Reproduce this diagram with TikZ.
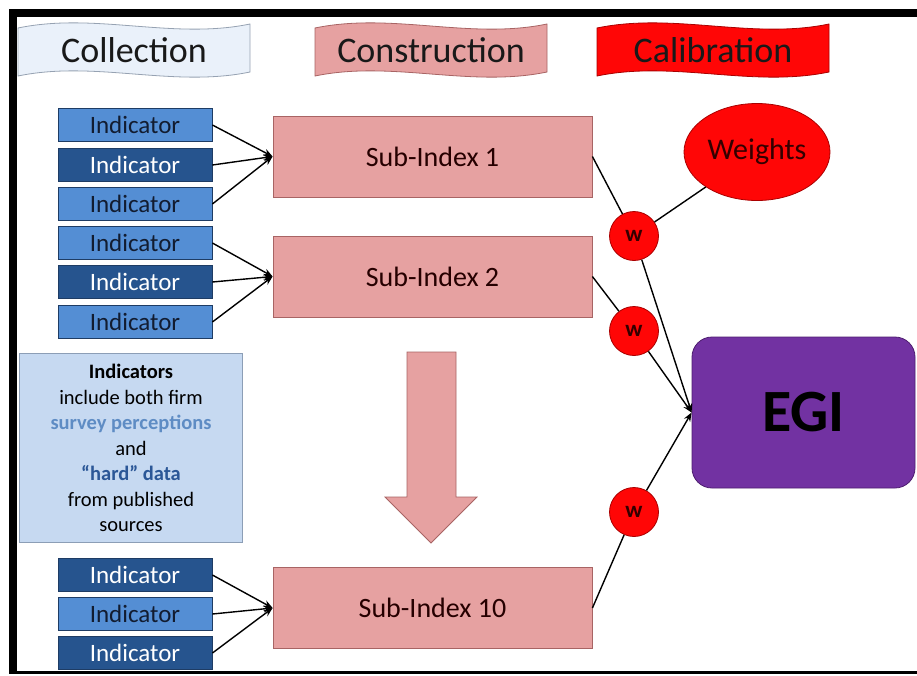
\documentclass[tikz,border=0pt]{standalone}
\usepackage{fontspec}
\setmainfont{Carlito}
\usetikzlibrary{arrows.meta,shapes.geometric}

\begin{document}
\begin{tikzpicture}[x=1pt, y=-1pt]
% Colors
\definecolor{collfill}{RGB}{234,241,250}
\definecolor{colledge}{RGB}{150,162,178}
\definecolor{subfill}{RGB}{230,161,161}
\definecolor{subedge}{RGB}{168,100,100}
\definecolor{calfill}{RGB}{255,6,6}
\definecolor{caledge}{RGB}{170,0,0}
\definecolor{indlt}{RGB}{84,142,212}
\definecolor{inddk}{RGB}{38,84,142}
\definecolor{indedge}{RGB}{30,60,100}
\definecolor{indtext}{RGB}{18,28,48}
\definecolor{infofill}{RGB}{198,217,241}
\definecolor{infoedge}{RGB}{140,158,182}
\definecolor{survey}{RGB}{94,140,196}
\definecolor{hard}{RGB}{43,87,151}
\definecolor{egifill}{RGB}{114,50,162}
\definecolor{egiedge}{RGB}{78,30,112}

\tikzset{
  indbox/.style={draw=indedge, line width=0.8pt, minimum width=154, minimum height=33,
    inner sep=0pt, font=\fontsize{25}{28}\selectfont},
  subbox/.style={draw=subedge, fill=subfill, line width=0.8pt, minimum width=319,
    minimum height=81, inner sep=0pt, text=black!85!red, font=\fontsize{28}{30}\selectfont},
  wdot/.style={circle, draw=caledge, fill=calfill, line width=0.8pt, minimum size=49,
    inner sep=0pt, text=black!80!red, font=\bfseries\fontsize{23}{24}\selectfont},
  arr/.style={-{Stealth[length=9pt, width=7pt]}, line width=1.4pt, black},
  link/.style={line width=1.4pt, black}
}

\useasboundingbox (0,0) rectangle (917,675);
\fill[white] (0,0) rectangle (917,675);

% Black frame
\fill[black] (9,9) rectangle (917,17);
\fill[black] (9,9) rectangle (17,674);
\fill[black] (9,670.5) rectangle (917,674);

% Wavy header banners
\foreach \x/\fc/\ec/\txt/\nm in {18/collfill/colledge/Collection/coll,
    315/subfill/subedge/Construction/cons, 597/calfill/caledge/Calibration/cali}{
  \path[fill=\fc, draw=\ec, line width=0.8pt]
    (\x,28) .. controls (\x+77,12) and (\x+155,40) .. (\x+232,24)
    -- (\x+232,72) .. controls (\x+155,88) and (\x+77,60) .. (\x,76) -- cycle;
  \node[font=\fontsize{36}{40}\selectfont, text=black!90] (\nm) at (\x+116,50) {\txt};
}

% Sub-indices
\node[subbox] (si1) at (432.5,156.5) {Sub-Index 1};
\node[subbox] (si2) at (432.5,276.5) {Sub-Index 2};
\node[subbox] (si10) at (432.5,608) {Sub-Index 10};

% Indicators
\foreach \i/\y/\fc/\tc/\si in {1/125/indlt/indtext/si1, 2/165/inddk/white/si1, 3/204/indlt/indtext/si1,
    4/243/indlt/indtext/si2, 5/282/inddk/white/si2, 6/322/indlt/indtext/si2,
    7/575/inddk/white/si10, 8/614/indlt/indtext/si10, 9/653/inddk/white/si10}{
  \node[indbox, fill=\fc, text=\tc] (ind\i) at (135,\y) {Indicator};
  \draw[arr] (ind\i.east) -- (\si.west);
}

% Note on indicators
\node[draw=infoedge, fill=infofill, line width=0.8pt, minimum width=223, minimum height=189,
  inner sep=0pt, align=center, font=\fontsize{20.5}{25.5}\selectfont] (note) at (131,448)
  {\textbf{Indicators}\\include both firm\\\textcolor{survey}{\textbf{survey perceptions}}\\and\\
   \textcolor{hard}{\textbf{``hard'' data}}\\from published\\sources};

% Big down arrow
\path[fill=subfill, draw=subedge, line width=0.8pt]
  (407,352) -- (456,352) -- (456,497) -- (477,497) -- (431,543) -- (385,497) -- (407,497) -- cycle;

% Calibration
\node[ellipse, draw=caledge, fill=calfill, line width=0.8pt, minimum width=146, minimum height=97,
  inner sep=0pt, text=black!80!red, font=\fontsize{30}{32}\selectfont] (weights) at (757,152) {Weights};
\node[wdot] (w1) at (634,236) {w};
\node[wdot] (w2) at (634,331) {w};
\node[wdot] (w3) at (634,512) {w};
\node[draw=egiedge, fill=egifill, line width=0.8pt, rounded corners=20, minimum width=223,
  minimum height=151, inner sep=0pt, font=\bfseries\fontsize{60}{62}\selectfont] (egi) at (803.5,412.5) {EGI};

% Weighted links into the index
\draw[link] (si1.east) -- (w1);
\draw[link] (si2.east) -- (w2);
\draw[link] (si10.east) -- (w3);
\draw[link] (weights) -- (w1);
\draw[arr] (w1) -- (egi.west);
\draw[arr] (w2) -- (egi.west);
\draw[arr] (w3) -- (egi.west);

\end{tikzpicture}
\end{document}
